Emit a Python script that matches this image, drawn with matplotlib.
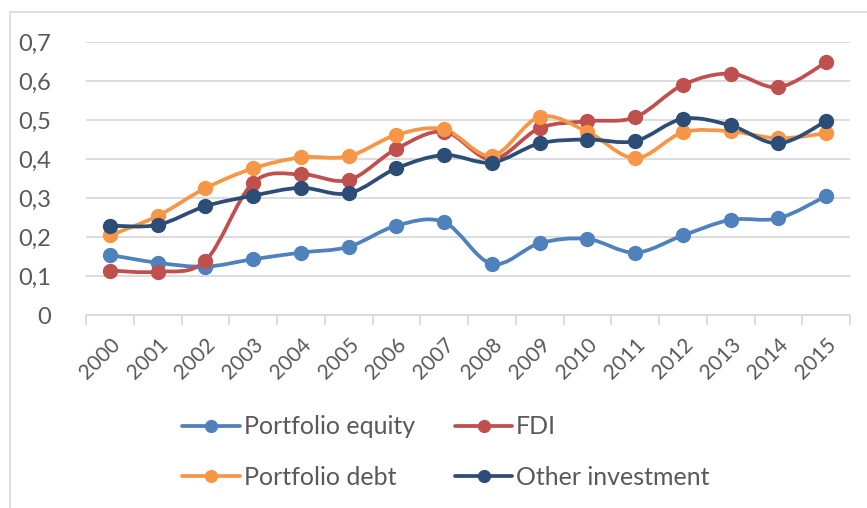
import numpy as np
import matplotlib
matplotlib.use("Agg")
import matplotlib.pyplot as plt
from matplotlib.path import Path
from matplotlib.patches import PathPatch, Rectangle
from matplotlib.lines import Line2D

plt.rcParams['font.family'] = ['Lato', 'DejaVu Sans']

years = [str(y) for y in range(2000, 2016)]

portfolio_equity = [0.154, 0.134, 0.124, 0.143, 0.160, 0.175, 0.229, 0.238, 0.131,
                    0.184, 0.195, 0.160, 0.204, 0.244, 0.248, 0.305]
fdi = [0.114, 0.111, 0.139, 0.339, 0.361, 0.346, 0.426, 0.470, 0.399,
       0.479, 0.497, 0.507, 0.590, 0.619, 0.584, 0.648]
portfolio_debt = [0.204, 0.254, 0.325, 0.376, 0.404, 0.407, 0.462, 0.476, 0.408,
                  0.508, 0.470, 0.402, 0.468, 0.471, 0.453, 0.466]
other_investment = [0.229, 0.231, 0.279, 0.306, 0.326, 0.312, 0.376, 0.410, 0.391,
                    0.440, 0.450, 0.446, 0.503, 0.486, 0.440, 0.497]

series = [
    ("Portfolio equity", portfolio_equity, "#4F81BD"),
    ("FDI", fdi, "#C0504D"),
    ("Portfolio debt", portfolio_debt, "#F79646"),
    ("Other investment", other_investment, "#2C4D75"),
]

TEXT = "#595959"
GRID = "#D9D9D9"


def smooth_path(x, y):
    # Excel-style smoothed line: Catmull-Rom segments as cubic Beziers
    pts = np.column_stack([x, y]).astype(float)
    n = len(pts)
    verts = [pts[0]]
    codes = [Path.MOVETO]
    for i in range(n - 1):
        p0 = pts[i - 1] if i > 0 else pts[i]
        p1 = pts[i]
        p2 = pts[i + 1]
        p3 = pts[i + 2] if i + 2 < n else pts[i + 1]
        c1 = p1 + (p2 - p0) / 6.0
        c2 = p2 - (p3 - p1) / 6.0
        verts += [c1, c2, p2]
        codes += [Path.CURVE4] * 3
    return Path(verts, codes)


fig = plt.figure(figsize=(8.67, 5.08), dpi=100)
W, H = 867, 508
ax = fig.add_axes([86 / W, 1 - 315 / H, (850 - 86) / W, (315 - 42) / H])

# outer chart border (cropped on right / bottom)
fig.patches.append(Rectangle((10 / W, -0.1), 1.2, 1 - 12 / H + 0.1,
                             transform=fig.transFigure, fill=False,
                             edgecolor=GRID, linewidth=1.2))

x = np.arange(len(years))
handles = {}
for name, vals, col in series:
    ax.add_patch(PathPatch(smooth_path(x, vals), facecolor="none", edgecolor=col,
                           linewidth=2.7, capstyle="round", joinstyle="round",
                           clip_on=False))
    ax.plot(x, vals, "o", color=col, markersize=10, clip_on=False)
    handles[name] = Line2D([], [], color=col, linewidth=2.7, marker="o",
                           markersize=8.5, solid_capstyle="round")

ax.set_xlim(-0.5, len(years) - 0.5)
ax.set_ylim(0, 0.7)
ax.set_yticks(np.arange(0, 0.71, 0.1))
ax.set_yticklabels(["0" if v == 0 else f"{v:.1f}".replace(".", ",")
                    for v in np.arange(0, 0.71, 0.1)])
ax.yaxis.grid(True, color=GRID, linewidth=1.3)
ax.set_axisbelow(True)
ax.tick_params(axis="y", length=0, pad=25, labelsize=17, labelcolor=TEXT)

ax.set_xticks(x)
ax.set_xticklabels(years, rotation=45, ha="right", rotation_mode="anchor")
ax.set_xticks(np.arange(-0.5, len(years)), minor=True)
ax.tick_params(axis="x", which="major", length=0, pad=14, labelsize=15,
               labelcolor=TEXT)
ax.tick_params(axis="x", which="minor", length=7, width=1.3, color=GRID)

for s in ["top", "right", "left"]:
    ax.spines[s].set_visible(False)
ax.spines["bottom"].set_color(GRID)
ax.spines["bottom"].set_linewidth(1.3)

order = ["Portfolio equity", "Portfolio debt", "FDI", "Other investment"]
leg = fig.legend([handles[k] for k in order], order, ncol=2, loc="center",
                 bbox_to_anchor=(446 / W, 1 - 452 / H), frameon=False,
                 fontsize=18, handlelength=2.3, handletextpad=0.15,
                 columnspacing=1.6, labelspacing=1.1)
for t in leg.get_texts():
    t.set_color(TEXT)

fig.savefig("out.png", dpi=100)
